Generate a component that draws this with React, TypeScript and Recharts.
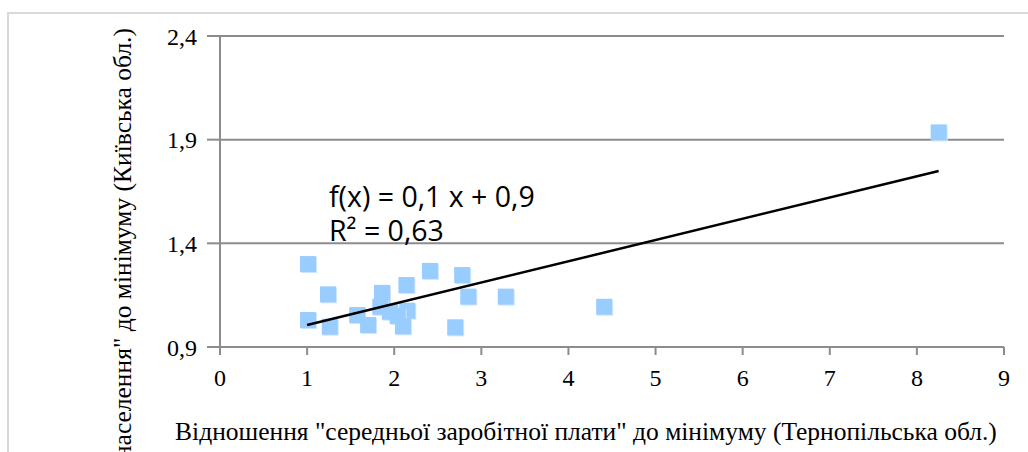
import React from 'react';
import { ScatterChart, Scatter, XAxis, YAxis, CartesianGrid } from 'recharts';

const xValues = [1.01, 1.24, 1.01, 1.26, 1.86, 1.86, 1.575, 1.7, 1.84, 1.95, 2.14, 2.15, 2.04, 2.1, 2.41, 2.78, 2.85, 2.7, 3.28, 4.41, 8.25];
const yValues = [1.3, 1.154, 1.03, 0.998, 1.161, 1.098, 1.054, 1.006, 1.094, 1.07, 1.199, 1.075, 1.05, 1.0, 1.267, 1.247, 1.143, 0.995, 1.143, 1.094, 1.935];

// trendline end points as drawn in the picture
const trendX = [1.0, 8.25];
const trendY = [1.006, 1.749];

const xTicks = [0, 1, 2, 3, 4, 5, 6, 7, 8, 9];
const yTicks = [0.9, 1.4, 1.9, 2.4];

const xTitle = 'Відношення "середньої заробітної плати" до мінімуму (Тернопільська обл.)';
const yTitle = 'Відношення "середньодушового доходу населення" до мінімуму (Київська обл.)';
const equation = 'f(x) = 0,1 x + 0,9';
const rSquared = 'R² = 0,63';

const points = xValues.map((x, i) => ({ x, y: yValues[i] }));
const trend = trendX.map((x, i) => ({ x, y: trendY[i] }));

const serif = '"Liberation Serif", "Times New Roman", serif';
const grid = '#8c8c8c';

const Square = (props: any) => {
  const { cx, cy } = props;
  if (cx == null || cy == null) return null;
  return (
    <g>
      <rect x={cx - 7} y={cy - 7} width={16} height={16} fill="#cfe6ff" />
      <rect x={cx - 8} y={cy - 8} width={16} height={16} fill="#99ccff" />
    </g>
  );
};

const XTitle = ({ viewBox }: any) => (
  <text x={viewBox.x + viewBox.width / 2 - 26} y={440} textAnchor="middle" fontFamily={serif} fontSize={25.5} fill="#000">
    {xTitle}
  </text>
);

const YTitle = () => (
  <text x={131} y={28} transform="rotate(-90 131 28)" textAnchor="end" fontFamily={serif} fontSize={25.5} fill="#000">
    {yTitle}
  </text>
);

const Equation = () => (
  <text fontFamily='"Open Sans", "Noto Sans", sans-serif' fontSize={28.5} fill="#000">
    <tspan x={329} y={207}>{equation}</tspan>
    <tspan x={329} y={241}>{rSquared}</tspan>
  </text>
);

export default function App() {
  return (
    <div style={{ position: 'fixed', left: 0, top: 0, width: 1028, height: 452, overflow: 'hidden', background: '#fff' }}>
      <div style={{ position: 'absolute', left: 7, top: 12, width: 1100, height: 600, borderTop: '2px solid #d9d9d9', borderLeft: '2px solid #d9d9d9' }} />
      <div style={{ position: 'absolute', left: 0, top: 0 }}>
        <ScatterChart width={1028} height={452} margin={{ top: 36, right: 24, bottom: 45, left: 0 }}>
          <CartesianGrid vertical={false} stroke={grid} strokeWidth={2} />
          <XAxis
            type="number"
            dataKey="x"
            domain={[0, 9]}
            ticks={xTicks}
            allowDataOverflow
            height={60}
            stroke={grid}
            strokeWidth={2}
            tickSize={8}
            tickMargin={14}
            tick={{ fill: '#000', fontFamily: serif, fontSize: 24 }}
            label={<XTitle />}
          />
          <YAxis
            type="number"
            dataKey="y"
            domain={[0.9, 2.4]}
            ticks={yTicks}
            allowDataOverflow
            width={220}
            stroke={grid}
            strokeWidth={2}
            tickSize={13}
            tickMargin={10}
            tickFormatter={(v: number) => v.toFixed(1).replace('.', ',')}
            tick={{ fill: '#000', fontFamily: serif, fontSize: 24 }}
            label={<YTitle />}
          />
          <Scatter data={points} shape={<Square />} isAnimationActive={false} />
          <Scatter data={trend} line={{ stroke: '#000', strokeWidth: 2.5 }} shape={() => null} isAnimationActive={false} />
          <Equation />
        </ScatterChart>
      </div>
    </div>
  );
}
